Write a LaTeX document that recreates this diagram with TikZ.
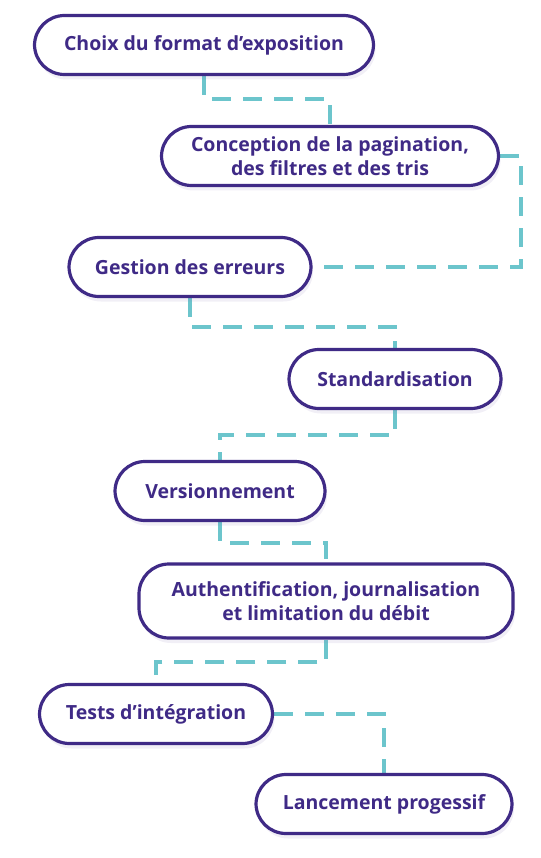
\documentclass[tikz,border=0pt]{standalone}
\usepackage{fontspec}
\setmainfont{Open Sans}
\usetikzlibrary{shadows,backgrounds}
\definecolor{stageink}{HTML}{3F2A86}
\definecolor{linkteal}{HTML}{6CC5CC}
\tikzset{
  stage/.style={draw=stageink, line width=3.2pt, fill=white, rounded corners=30pt,
    minimum height=59pt, inner xsep=0pt, align=center, text=stageink,
    font=\bfseries\fontsize{19.5}{24}\selectfont,
    drop shadow={shadow xshift=2pt, shadow yshift=-5pt, fill=stageink!60, opacity=.12}},
  link/.style={draw=linkteal, line width=3.5pt, dash pattern=on 19pt off 12pt},
}
\begin{document}
\begin{tikzpicture}[x=1pt,y=-1pt]
      \useasboundingbox (0,0) rectangle (540,858);
      \draw
        (204,45) node[stage, minimum width=339pt] (format){Choix du format d’exposition}
        (330,156) node[stage, minimum width=337pt] (pagination){Conception de la pagination,\\des filtres et des tris}
        (190,267) node[stage, minimum width=242pt] (erreurs){Gestion des erreurs}
        (395,379) node[stage, minimum width=212pt] (standard){Standardisation}
        (220,491) node[stage, minimum width=210pt] (version){Versionnement}
        (326,601) node[stage, minimum width=374pt, minimum height=74pt] (auth){Authentification, journalisation\\et limitation du débit}
        (156,714) node[stage, minimum width=233pt] (tests){Tests d’intégration}
        (384,804) node[stage, minimum width=256pt] (lancement){Lancement progessif};
      \begin{scope}[on background layer]
        \draw[link] (format.south) |- (204,99) -| (pagination.north);
        \draw[link] (pagination.east) -- (521,156) |- (erreurs.east);
        \draw[link] (erreurs.south) |- (190,327) -| (standard.north);
        \draw[link] (standard.south) |- (395,435) -| (version.north);
        \draw[link] (version.south) |- (220,543) -| (auth.north);
        \draw[link] (auth.south) |- (326,662) -| (tests.north);
        \draw[link] (tests.east) -| (lancement.north);
      \end{scope}
    \end{tikzpicture}
\end{document}
